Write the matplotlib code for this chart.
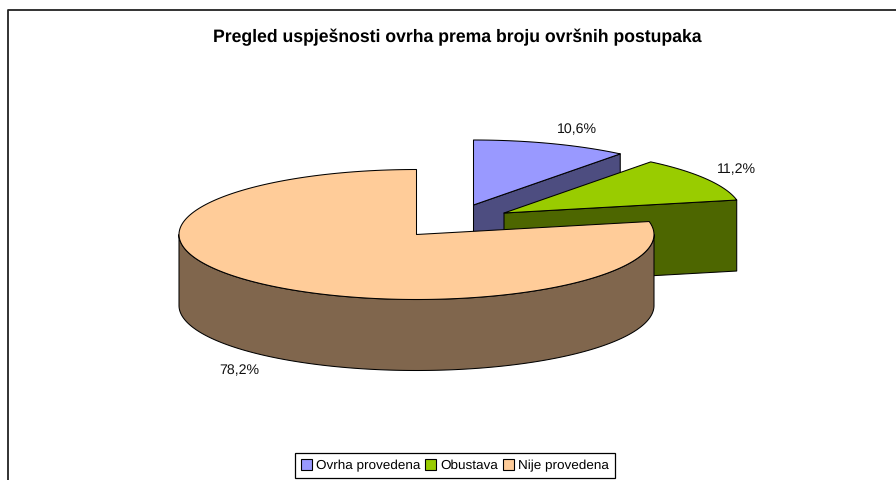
import numpy as np
import matplotlib
matplotlib.use("Agg")
import matplotlib.pyplot as plt
from matplotlib.patches import Patch, Polygon

plt.rcParams['font.family'] = ['Liberation Sans', 'DejaVu Sans']
plt.rcParams['text.hinting'] = 'no_hinting'

title = "Pregled uspješnosti ovrha prema broju ovršnih postupaka"
names = ["Ovrha provedena", "Obustava", "Nije provedena"]
shares = [10.6, 11.2, 78.2]
share_labels = ["10,6%", "11,2%", "78,2%"]
top_colors = ["#9999FF", "#99CC00", "#FFCC99"]
side_colors = ["#4D4D80", "#4D6600", "#80664D"]

# layout in pixels
centers = [(473.5, 205), (504, 213), (416.5, 234.5)]
label_pos = [(577, 130), (736, 170), (239, 371)]
rx, ry, depth = 237.5, 65, 71

fig = plt.figure(figsize=(8.96, 4.8), dpi=100)
ax = fig.add_axes([0, 0, 1, 1])
ax.set_xlim(0, 896)
ax.set_ylim(480, 0)
ax.axis('off')


def rim(cx, cy, a0, a1):
    # angles clockwise from the top of the ellipse, degrees
    t = np.radians(np.linspace(a0, a1, 200))
    return np.column_stack([cx + rx*np.sin(t), cy - ry*np.cos(t)])


def draw(xy, color, z):
    ax.add_patch(Polygon(xy, closed=True, facecolor=color, edgecolor='black',
                         linewidth=0.75, joinstyle='round', zorder=z))


# frame, only left and top show up in the picture
ax.plot([7.5, 7.5, 896], [480, 9.5, 9.5], color='#222222', lw=1.3, zorder=1)

edges = np.cumsum([0] + shares) * 3.6
for i in range(3):
    cx, cy = centers[i]
    a0, a1 = edges[i], edges[i+1]
    z = 2 + i*3
    # radial cut face of the first two slices
    if i < 2:
        corner = rim(cx, cy, a1, a1)[0]
        draw([(cx, cy), corner, corner + (0, depth), (cx, cy + depth)], side_colors[i], z)
    # outer wall, the part facing the viewer
    lo, hi = max(a0, 90), min(a1, 270)
    if lo < hi:
        arc = rim(cx, cy, lo, hi)
        draw(np.vstack([arc, (arc + (0, depth))[::-1]]), side_colors[i], z + 1)
    draw(np.vstack([[(cx, cy)], rim(cx, cy, a0, a1)]), top_colors[i], z + 2)
    ax.text(*label_pos[i], share_labels[i], fontsize=10.2, ha='center', va='center',
            color='#111111', zorder=20)

ax.text(457.5, 37.5, title, fontsize=12.7, fontweight='bold', ha='center', va='center',
        color='black')

handles = [Patch(facecolor=c, edgecolor='black', linewidth=0.8) for c in top_colors]
leg = ax.legend(handles, names, ncol=3, loc='center', bbox_to_anchor=(455/896, 1 - 465.5/480),
                fontsize=9.7, frameon=True, fancybox=False, edgecolor='black', framealpha=1,
                handlelength=0.8, handleheight=0.8, handletextpad=0.3, columnspacing=0.4,
                borderpad=0.45, borderaxespad=0)
leg.get_frame().set_linewidth(0.9)

fig.savefig("out.png", dpi=100)
